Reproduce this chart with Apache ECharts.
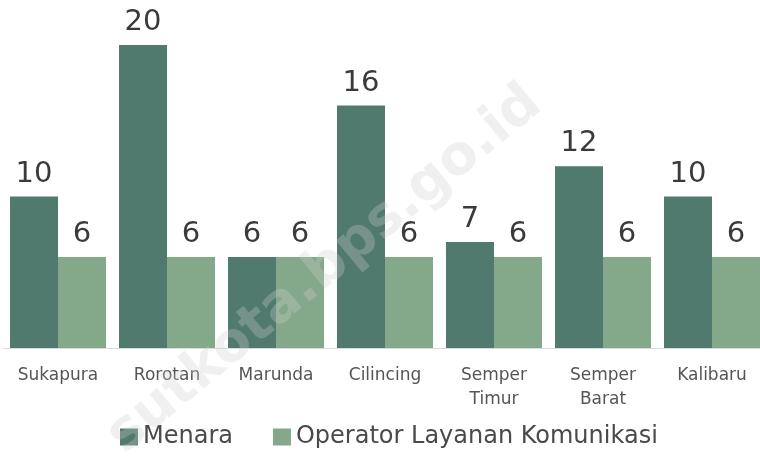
<!DOCTYPE html>
<html>
<head>
<meta charset="utf-8">
<script src="https://cdn.jsdelivr.net/npm/echarts@6/dist/echarts.min.js"></script>
<style>
  html,body{margin:0;padding:0;background:#fff;overflow:hidden;width:760px;height:458px;}
  #chart{width:780px;height:458px;}
</style>
</head>
<body>
<div id="chart"></div>
<script>
var categories = ['Sukapura', 'Rorotan', 'Marunda', 'Cilincing', 'Semper\nTimur', 'Semper\nBarat', 'Kalibaru'];
var menara = [10, 20, 6, 16, 7, 12, 10];
var operator = [6, 6, 6, 6, 6, 6, 6];
var seriesNames = ['Menara', 'Operator Layanan Komunikasi'];

var chart = echarts.init(document.getElementById('chart'));
var font = '"DejaVu Sans", sans-serif';
var valueLabel = {
    show: true,
    position: 'top',
    distance: 8,
    fontSize: 29,
    fontFamily: font,
    color: '#3a3a3a'
};

chart.setOption({
    animation: false,
    grid: { left: 3.5, width: 763, top: 45, bottom: 110 },
    legend: {
        bottom: 4,
        left: 115,
        icon: 'rect',
        itemWidth: 18,
        itemHeight: 17,
        itemGap: 40,
        textStyle: { fontSize: 24, fontFamily: font, color: '#4a4a4a' },
        data: seriesNames
    },
    xAxis: {
        type: 'category',
        data: categories,
        axisLine: { lineStyle: { color: '#dcdcdc', width: 1 } },
        axisTick: { show: false },
        axisLabel: {
            interval: 0,
            margin: 16,
            fontSize: 17,
            lineHeight: 24,
            fontFamily: font,
            color: '#555'
        }
    },
    yAxis: {
        type: 'value',
        min: 0,
        max: 20,
        show: false,
        splitLine: { show: false }
    },
    graphic: [{
        type: 'text',
        x: 325,
        y: 270,
        rotation: 0.69,
        style: {
            text: 'sutkota.bps.go.id',
            fontSize: 55,
            fontWeight: 'bold',
            fontFamily: font,
            align: 'center',
            verticalAlign: 'middle',
            fill: 'rgba(205,205,205,0.3)'
        },
        z: 100
    }],
    series: [{
        name: seriesNames[0],
        type: 'bar',
        data: menara,
        barWidth: 48,
        barGap: '0%',
        itemStyle: { color: '#507a6d' },
        label: valueLabel
    }, {
        name: seriesNames[1],
        type: 'bar',
        data: operator,
        barWidth: 48,
        barGap: '0%',
        itemStyle: { color: '#84a98a' },
        label: valueLabel
    }]
});
</script>
</body>
</html>
